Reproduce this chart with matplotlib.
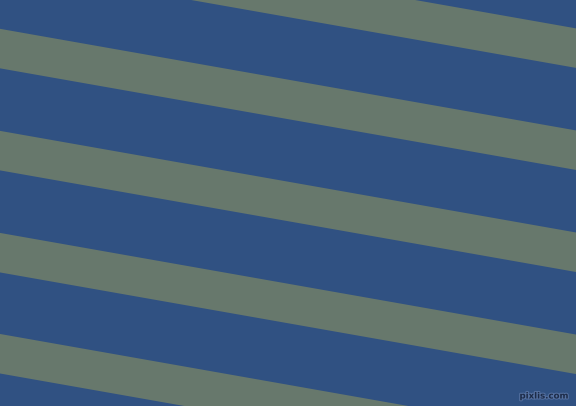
import matplotlib
matplotlib.use("Agg")
import matplotlib.pyplot as plt
import matplotlib.patheffects as pe
import numpy as np

# Stripe pattern, pixel units (y grows downwards)
width_px = 576
height_px = 406
blue = "#305182"
grey = "#67786c"
band_tops = [-73, 29, 131, 233, 334, 436]   # top edge of each grey band at x=0
band_height = 39.5
angle_deg = 10.0

fig = plt.figure(figsize=(5.76, 4.062), dpi=100)
ax = fig.add_axes([0, 0, 1, 1])
ax.set_facecolor(blue)
ax.set_xlim(0, width_px)
ax.set_ylim(height_px, 0)
ax.axis("off")
fig.patch.set_facecolor(blue)

x = np.array([0, width_px])
slope = np.tan(np.radians(angle_deg))
for top in band_tops:
  upper = top + slope * x
  ax.fill_between(x, upper, upper + band_height, color=grey, linewidth=0)

ax.text(569, 398.5, "pixlis.com", fontsize=6.2, color="#1c2b48", ha="right",
        va="baseline", family="DejaVu Sans Condensed", weight="bold",
        path_effects=[pe.withStroke(linewidth=1.5, foreground="#5470a0")])

fig.savefig("out.png", dpi=100, facecolor=blue)
